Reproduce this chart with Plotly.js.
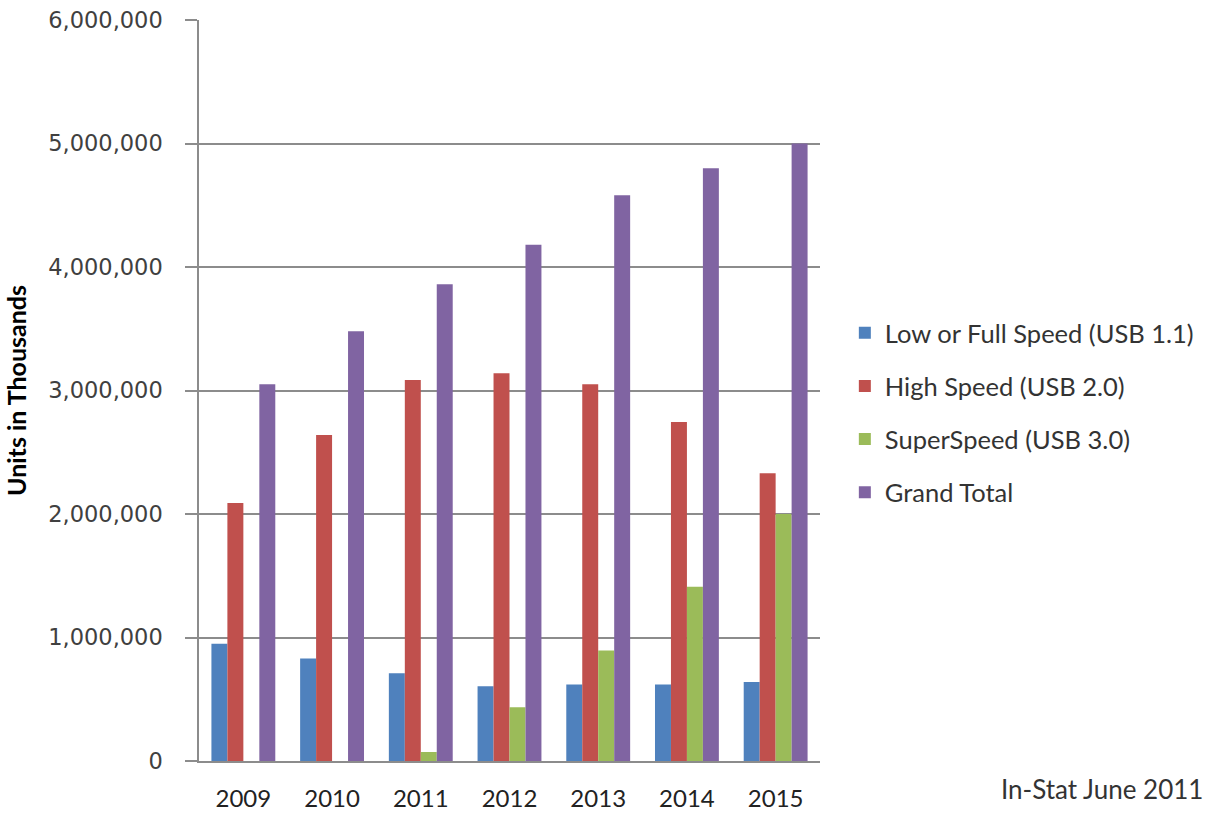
<!DOCTYPE html>
<html>
<head>
<meta charset="utf-8">
<script src="https://cdn.plot.ly/plotly-3.0.1.min.js"></script>
<style>
  html, body { margin: 0; padding: 0; background: #ffffff; }
  #chart { width: 1223px; height: 814px; }
</style>
</head>
<body>
<div id="chart"></div>
<script>
const years = ['2009', '2010', '2011', '2012', '2013', '2014', '2015'];
const usb11 = [950000, 830000, 710000, 605000, 620000, 620000, 640000];
const usb20 = [2090000, 2640000, 3085000, 3140000, 3050000, 2745000, 2330000];
const usb30 = [0, 0, 73000, 435000, 895000, 1410000, 2000000];
const grandTotal = [3050000, 3480000, 3860000, 4180000, 4580000, 4800000, 5000000];

const seriesNames = ['Low or Full Speed (USB 1.1)', 'High Speed (USB 2.0)', 'SuperSpeed (USB 3.0)', 'Grand Total'];
const seriesColors = ['#4F81BD', '#C0504D', '#9BBB59', '#8064A2'];
const seriesValues = [usb11, usb20, usb30, grandTotal];

const traces = seriesValues.map((vals, i) => ({
  type: 'bar',
  name: seriesNames[i],
  x: years,
  y: vals,
  legendgroup: 'g' + i,
  marker: { color: seriesColors[i], line: { width: 0 } },
  hoverinfo: 'x+y+name'
}));

const layout = {
  width: 1223,
  height: 814,
  margin: { l: 199, r: 403, t: 20, b: 53 },
  paper_bgcolor: '#ffffff',
  plot_bgcolor: '#ffffff',
  barmode: 'group',
  bargap: 0.28,
  bargroupgap: 0,
  showlegend: true,
  legend: {
    x: 1.04, xanchor: 'left',
    y: 0.47, yanchor: 'middle',
    traceorder: 'grouped',
    tracegroupgap: 17,
    font: { family: 'Lato, sans-serif', size: 25.5, color: '#333333' },
    bgcolor: 'rgba(0,0,0,0)'
  },
  xaxis: {
    type: 'category',
    showgrid: false,
    showline: true,
    linecolor: '#8c8c8c',
    linewidth: 1.5,
    ticks: '',
    ticklabelstandoff: 15,
    tickfont: { family: 'Lato, sans-serif', size: 24, color: '#222222' },
    zeroline: false,
    fixedrange: true
  },
  yaxis: {
    range: [0, 6000000],
    dtick: 1000000,
    tick0: 0,
    tickformat: ',d',
    showgrid: true,
    gridcolor: '#8c8c8c',
    gridwidth: 1.5,
    showline: true,
    linecolor: '#8c8c8c',
    linewidth: 1.5,
    ticks: 'outside',
    ticklen: 12,
    tickwidth: 1.5,
    tickcolor: '#8c8c8c',
    ticklabelstandoff: 18,
    tickfont: { family: 'DejaVu Sans, sans-serif', size: 22.5, color: '#404040' },
    zeroline: false,
    fixedrange: true,
    title: {
      text: 'Units in Thousands',
      font: { family: 'Lato, sans-serif', size: 25, color: '#000000', weight: 'bold' },
      standoff: 14
    }
  },
  annotations: [
    {
      text: 'In-Stat June 2011',
      xref: 'paper', yref: 'paper',
      x: (1205 - 199) / 621, xanchor: 'right',
      y: -0.038, yanchor: 'middle',
      showarrow: false,
      font: { family: 'Lato, sans-serif', size: 26, color: '#333333' }
    }
  ]
};

Plotly.newPlot('chart', traces, layout, { displayModeBar: false, staticPlot: false });
</script>
</body>
</html>
